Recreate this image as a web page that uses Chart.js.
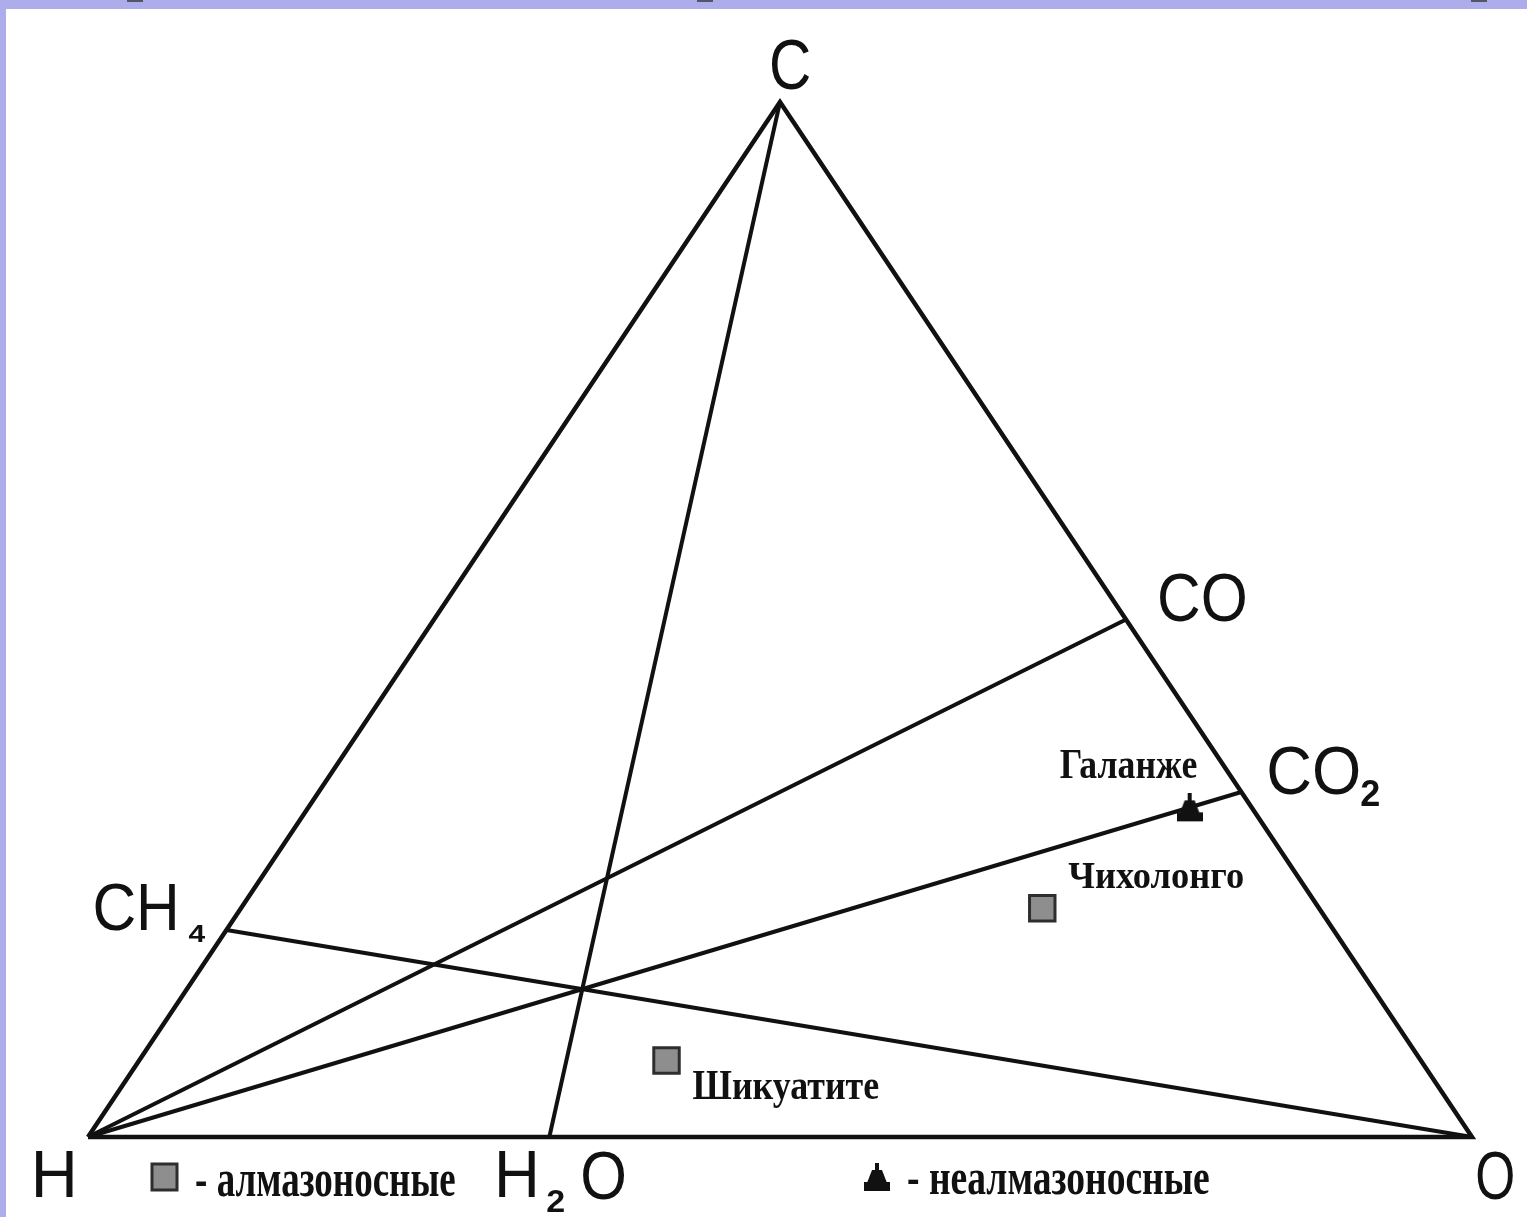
<!DOCTYPE html>
<html lang="ru">
<head>
  <meta charset="UTF-8" />
  <title>Диаграмма C-H-O</title>
  <script src="https://cdn.jsdelivr.net/npm/chart.js"></script>
  <style>
    html, body {
      margin: 0;
      padding: 0;
      width: 1527px;
      height: 1217px;
      overflow: hidden;
      background: #adadec;
    }
    .tick {
      position: absolute;
      top: 0;
      height: 2px;
      width: 16px;
      background: #55556a;
    }
    #sheet {
      position: absolute;
      left: 6px;
      top: 9px;
      width: 1521px;
      height: 1208px;
      background: #ffffff;
    }
    canvas { display: block; }
  </style>
</head>
<body>
  <div class="tick" style="left:127px"></div>
  <div class="tick" style="left:697px"></div>
  <div class="tick" style="left:1471px"></div>
  <div id="sheet">
    <canvas id="ternary" width="1521" height="1208"></canvas>
  </div>

  <script>
    // compositions as atom fractions of C and O (H = 1 - C - O)
    const pointNames = ['C', 'H', 'O', 'CH4', 'H2O', 'CO', 'CO2'];
    const pointC     = [1,   0,   0,   0.2,   0,     0.5,  1 / 3];
    const pointO     = [0,   0,   1,   0,     1 / 3, 0.5,  2 / 3];

    // joins drawn inside the triangle
    const tieLines = [['C', 'H2O'], ['H', 'CO'], ['H', 'CO2'], ['CH4', 'O']];

    // fluid samples
    const sampleNames   = ['Галанже', 'Чихолонго', 'Шикуатите'];
    const sampleC       = [0.318, 0.221, 0.074];
    const sampleO       = [0.637, 0.579, 0.381];
    const sampleDiamond = [false, true, true];

    const legendText = ['- алмазоносные', '- неалмазоносные'];

    // ternary -> plane: H at (0,0), O at (1,0), C at (0.5,1)
    function toXY(c, o) { return { x: o + c / 2, y: c }; }
    function node(name) {
      const i = pointNames.indexOf(name);
      return toXY(pointC[i], pointO[i]);
    }

    const INK = '#111111';
    const SQUARE_FILL = '#8e8e8e';
    const SQUARE_EDGE = '#2e2e2e';

    // little pawn-shaped marker for the barren pipes
    function pawnMarker() {
      const c = document.createElement('canvas');
      c.width = 26; c.height = 29;
      const g = c.getContext('2d');
      g.fillStyle = INK;
      g.fillRect(11, 0, 4, 9);
      g.beginPath();
      g.moveTo(8, 7); g.lineTo(18, 7); g.lineTo(23, 20); g.lineTo(3, 20);
      g.closePath();
      g.fill();
      g.fillRect(0, 19, 26, 9);
      return c;
    }
    const pawn = pawnMarker();

    const datasets = [];

    // triangle outline
    datasets.push({
      data: ['H', 'C', 'O', 'H'].map(node),
      showLine: true,
      borderColor: INK,
      borderWidth: 4.5,
      borderJoinStyle: 'miter',
      pointRadius: 0
    });

    tieLines.forEach(([a, b]) => {
      datasets.push({
        data: [node(a), node(b)],
        showLine: true,
        borderColor: INK,
        borderWidth: 4,
        pointRadius: 0
      });
    });

    sampleNames.forEach((name, i) => {
      const diamond = sampleDiamond[i];
      datasets.push({
        label: name,
        data: [toXY(sampleC[i], sampleO[i])],
        showLine: false,
        pointStyle: diamond ? 'rect' : pawn,
        pointRadius: diamond ? 18 : 13,
        backgroundColor: diamond ? SQUARE_FILL : INK,
        borderColor: diamond ? SQUARE_EDGE : INK,
        borderWidth: diamond ? 3 : 0
      });
    });

    // draws text so that its ink fills a given width and height above the baseline
    function fitText(ctx, text, left, base, w, h) {
      const m = ctx.measureText(text);
      const inkW = m.actualBoundingBoxLeft + m.actualBoundingBoxRight;
      ctx.save();
      ctx.translate(left, base);
      ctx.scale(w / inkW, h / m.actualBoundingBoxAscent);
      ctx.fillText(text, m.actualBoundingBoxLeft, 0);
      ctx.restore();
    }

    // formula labels: anchor, ink offset from anchor, ink size
    const SANS = '60px "Liberation Sans", Arial, sans-serif';
    const SANS_SUB = 'bold 30px "Liberation Sans", Arial, sans-serif';
    const formulaLabels = [
      { text: 'C',  at: 'C',   dx: -8,   dy: -13, w: 38, h: 49, font: SANS },
      { text: 'CO', at: 'CO',  dx: 34,   dy: 2,   w: 85, h: 48, font: SANS },
      { text: 'CO', at: 'CO2', dx: 28,   dy: 2,   w: 89, h: 48, font: SANS },
      { text: '2',  at: 'CO2', dx: 120,  dy: 14,  w: 18, h: 25, font: SANS_SUB },
      { text: 'CH', at: 'CH4', dx: -131, dy: 0,   w: 80, h: 47, font: SANS },
      { text: '4',  at: 'CH4', dx: -38,  dy: 12,  w: 17, h: 16, font: SANS_SUB },
      { text: 'H',  at: 'H',   dx: -53,  dy: 60,  w: 38, h: 45, font: SANS },
      { text: 'H',  at: 'H2O', dx: -51,  dy: 60,  w: 37, h: 45, font: SANS },
      { text: '2',  at: 'H2O', dx: -2,   dy: 75,  w: 17, h: 21, font: SANS_SUB },
      { text: 'O',  at: 'H2O', dx: 33,   dy: 62,  w: 42, h: 48, font: SANS },
      { text: 'O',  at: 'O',   dx: 5,    dy: 62,  w: 36, h: 48, font: SANS }
    ];

    const SERIF = 'bold 40px "Liberation Serif", "Times New Roman", serif';
    const sampleLabels = [
      { dx: -130, dy: -30, w: 137, h: 27 },
      { dx: 26,   dy: -20, w: 175, h: 25 },
      { dx: 26,   dy: 39,  w: 186, h: 28 }
    ];

    const labelPlugin = {
      id: 'ternaryLabels',
      afterDatasetsDraw(chart) {
        const ctx = chart.ctx;
        const sx = chart.scales.x, sy = chart.scales.y;
        const px = p => ({ x: sx.getPixelForValue(p.x), y: sy.getPixelForValue(p.y) });

        ctx.save();
        ctx.fillStyle = INK;
        ctx.textBaseline = 'alphabetic';
        ctx.textAlign = 'left';

        formulaLabels.forEach(l => {
          const a = px(node(l.at));
          ctx.font = l.font;
          fitText(ctx, l.text, a.x + l.dx, a.y + l.dy, l.w, l.h);
        });

        ctx.font = SERIF;
        sampleNames.forEach((name, i) => {
          const a = px(toXY(sampleC[i], sampleO[i]));
          const l = sampleLabels[i];
          fitText(ctx, name, a.x + l.dx, a.y + l.dy, l.w, l.h);
        });

        // legend under the base line
        const h = px(node('H'));
        ctx.fillStyle = SQUARE_FILL;
        ctx.strokeStyle = SQUARE_EDGE;
        ctx.lineWidth = 3;
        ctx.fillRect(h.x + 64, h.y + 27, 25, 26);
        ctx.strokeRect(h.x + 64, h.y + 27, 25, 26);
        ctx.drawImage(pawn, h.x + 776, h.y + 26);

        ctx.fillStyle = INK;
        fitText(ctx, legendText[0], h.x + 108, h.y + 59, 259, 26);
        fitText(ctx, legendText[1], h.x + 820, h.y + 57, 301, 25);
        ctx.restore();
      }
    };

    new Chart(document.getElementById('ternary').getContext('2d'), {
      type: 'scatter',
      data: { datasets },
      options: {
        responsive: false,
        animation: false,
        events: [],
        layout: { padding: 0, autoPadding: false },
        plugins: {
          legend: { display: false },
          tooltip: { enabled: false }
        },
        scales: {
          x: { type: 'linear', min: -0.059249, max: 1.03974, display: false },
          y: { type: 'linear', min: -0.077295, max: 1.089855, display: false }
        }
      },
      plugins: [labelPlugin]
    });
  </script>
</body>
</html>
